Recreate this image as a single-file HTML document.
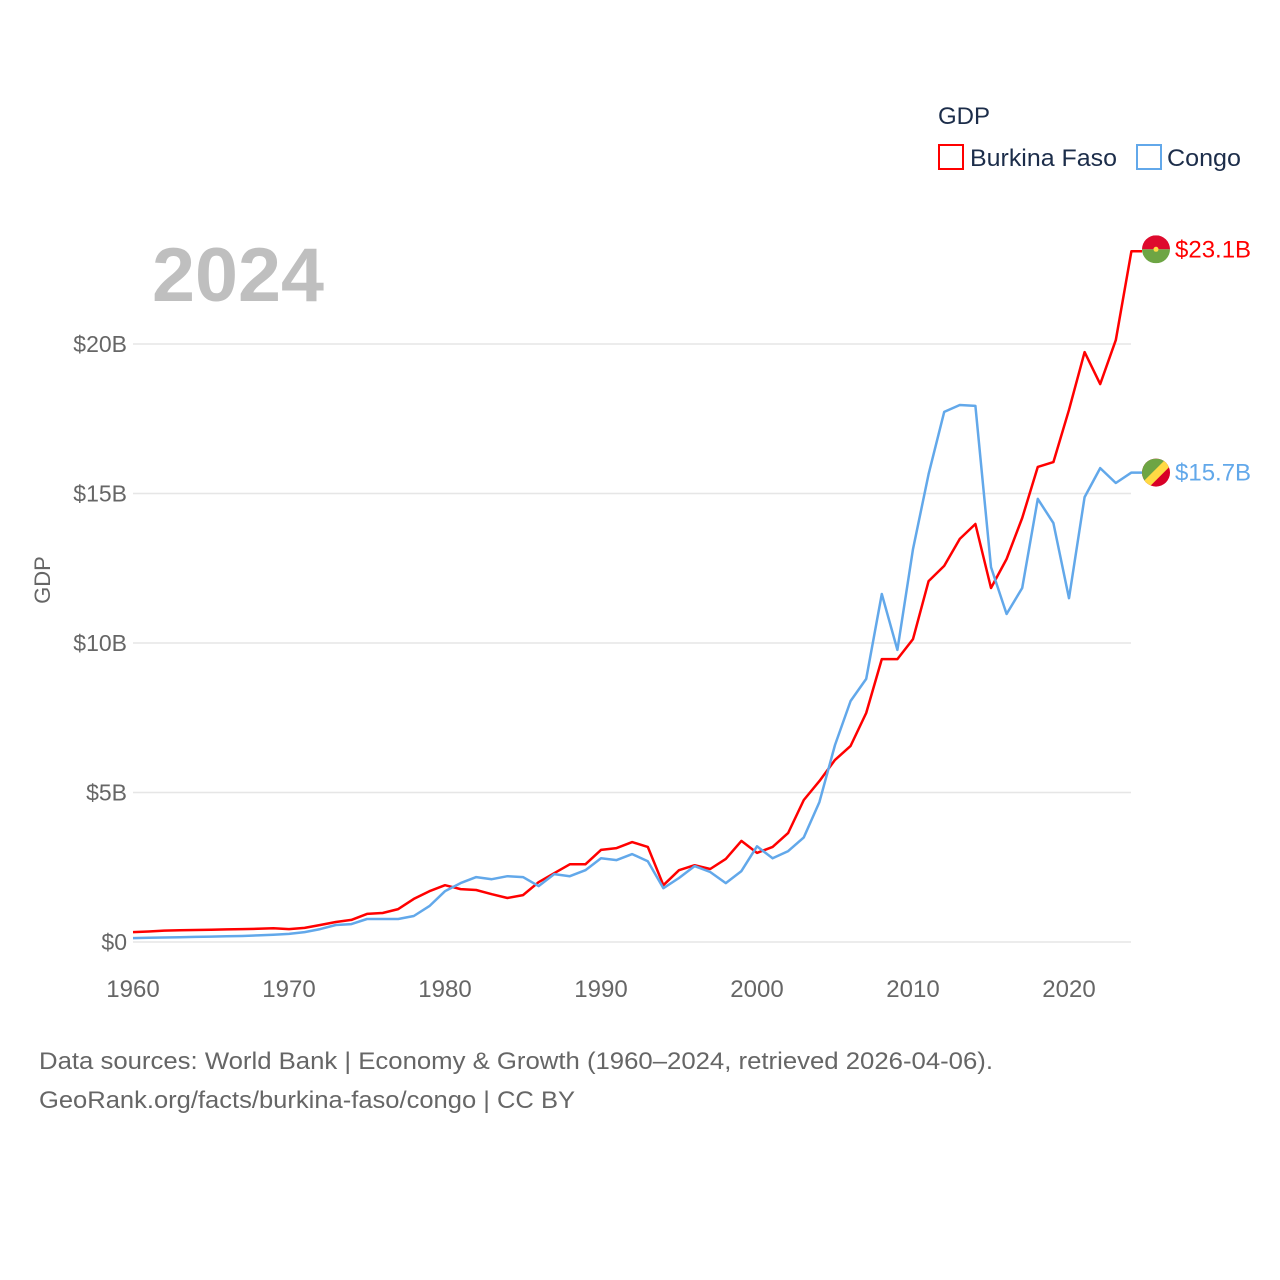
<!DOCTYPE html>
<html><head><meta charset="utf-8">
<style>
body{margin:0;background:#fff;width:1280px;height:1280px;overflow:hidden;font-family:"Liberation Sans",sans-serif;}
svg{display:block}
</style></head>
<body>
<svg id="chart" width="1280" height="1280" xmlns="http://www.w3.org/2000/svg">
<g id="grid"></g>
<g id="yticks"></g>
<g id="xticks"></g>
<text x="152" y="301" font-size="76" font-weight="bold" fill="#bfbfbf" textLength="172" lengthAdjust="spacingAndGlyphs">2024</text>
<text transform="translate(50,580) rotate(-90)" text-anchor="middle" font-size="22" fill="#666">GDP</text>
<g>
<text x="938" y="124" font-size="24" fill="#1c2d4a">GDP</text>
<rect x="939" y="145" width="24" height="24" fill="none" stroke="#ff0000" stroke-width="2"/>
<text x="970" y="166" font-size="24" fill="#1c2d4a" textLength="147" lengthAdjust="spacingAndGlyphs">Burkina Faso</text>
<rect x="1137" y="145" width="24" height="24" fill="none" stroke="#62a8ea" stroke-width="2"/>
<text x="1167" y="166" font-size="24" fill="#1c2d4a" textLength="74" lengthAdjust="spacingAndGlyphs">Congo</text>
</g>
<g id="series"></g>
<g font-size="24" fill="#666">
<text x="39" y="1069" textLength="954" lengthAdjust="spacingAndGlyphs">Data sources: World Bank | Economy &amp; Growth (1960–2024, retrieved 2026-04-06).</text>
<text x="39" y="1108" textLength="536" lengthAdjust="spacingAndGlyphs">GeoRank.org/facts/burkina-faso/congo | CC BY</text>
</g>
</svg>
<script>
const years = [];
for (let y = 1960; y <= 2024; y++) years.push(y);
const burkinaFaso = [0.33,0.35,0.38,0.39,0.40,0.41,0.42,0.43,0.44,0.46,0.43,0.47,0.57,0.67,0.74,0.94,0.97,1.10,1.44,1.70,1.90,1.77,1.74,1.60,1.47,1.57,2.00,2.30,2.60,2.60,3.08,3.14,3.34,3.18,1.90,2.40,2.57,2.44,2.78,3.38,2.98,3.18,3.65,4.75,5.38,6.09,6.56,7.66,9.46,9.46,10.13,12.07,12.58,13.48,13.98,11.84,12.81,14.18,15.89,16.05,17.80,19.73,18.66,20.13,23.10];
const congo = [0.13,0.14,0.15,0.16,0.17,0.18,0.19,0.20,0.22,0.24,0.27,0.33,0.43,0.57,0.60,0.77,0.77,0.77,0.87,1.20,1.70,1.97,2.17,2.10,2.20,2.17,1.87,2.27,2.20,2.40,2.80,2.74,2.94,2.70,1.80,2.14,2.54,2.34,1.97,2.37,3.20,2.80,3.04,3.50,4.68,6.59,8.06,8.80,11.64,9.77,13.14,15.65,17.73,17.96,17.93,12.54,10.97,11.84,14.82,14.01,11.50,14.88,15.85,15.35,15.70];
const yTickValues = [0,5,10,15,20];
const yTickLabels = ["$0","$5B","$10B","$15B","$20B"];
const xTickValues = [1960,1970,1980,1990,2000,2010,2020];
const NS = "http://www.w3.org/2000/svg";
const xs = y => 133 + (y - 1960) * 15.6;
const ys = v => 942 - v * 29.9;
function mk(tag, attrs, parent){const e=document.createElementNS(NS,tag);for(const k in attrs)e.setAttribute(k,attrs[k]);parent.appendChild(e);return e;}
const grid=document.getElementById('grid'), yt=document.getElementById('yticks'), xt=document.getElementById('xticks'), ser=document.getElementById('series');
yTickValues.forEach((v,i)=>{
  const l=mk('line',{x1:133,x2:1131,y1:ys(v),y2:ys(v),stroke:'#e6e6e6','stroke-width':1.5},grid);
  
  
  const t=mk('text',{x:127,y:ys(v)+8,'text-anchor':'end','font-size':23,fill:'#666'},yt);
  t.textContent=yTickLabels[i];
  
  
});
xTickValues.forEach(v=>{
  const t=mk('text',{x:xs(v),y:997,'text-anchor':'middle','font-size':24,fill:'#666'},xt);
  t.textContent=v;
  
  
});
function line(vals,color,name){
  const d=vals.map((v,i)=>(i?'L':'M')+xs(years[i]).toFixed(1)+' '+ys(v).toFixed(1)).join(' ');
  const last=ys(vals[vals.length-1]);
  const p=mk('path',{d:d+' L 1142 '+last.toFixed(1),fill:'none',stroke:color,'stroke-width':2.5,'stroke-linejoin':'round'},ser);
  
  
  return last;
}
const bY=line(burkinaFaso,'#ff0000','line-burkina-faso');
const cY=line(congo,'#62a8ea','line-congo');
const fb=mk('g',{},ser);


const cb=mk('clipPath',{id:'cb'},fb);mk('circle',{cx:1156,cy:bY-2,r:14},cb);
mk('rect',{x:1142,y:bY-16,width:28,height:14,fill:'#de0a2d','clip-path':'url(#cb)'},fb);
mk('rect',{x:1142,y:bY-2,width:28,height:14,fill:'#6da544','clip-path':'url(#cb)'},fb);
mk('circle',{cx:1156,cy:bY-2,r:2.5,fill:'#ffda44'},fb);
const bl=mk('text',{x:1175,y:bY+6,'font-size':24,fill:'#ff0000'},ser);
bl.textContent='$'+burkinaFaso[burkinaFaso.length-1].toFixed(1)+'B';


const fc=mk('g',{},ser);


const cc=mk('clipPath',{id:'cc'},fc);mk('circle',{cx:1156,cy:cY,r:14},cc);
mk('circle',{cx:1156,cy:cY,r:14,fill:'#d80027'},fc);
mk('polygon',{points:`1142,${cY-14} 1170,${cY-14} 1142,${cY+14}`,fill:'#6da544','clip-path':'url(#cc)'},fc);
mk('line',{x1:1142,y1:cY+16,x2:1172,y2:cY-14,stroke:'#ffda44','stroke-width':8,'clip-path':'url(#cc)'},fc);
const cl=mk('text',{x:1175,y:cY+8,'font-size':24,fill:'#62a8ea'},ser);
cl.textContent='$'+congo[congo.length-1].toFixed(1)+'B';


</script>
</body></html>
